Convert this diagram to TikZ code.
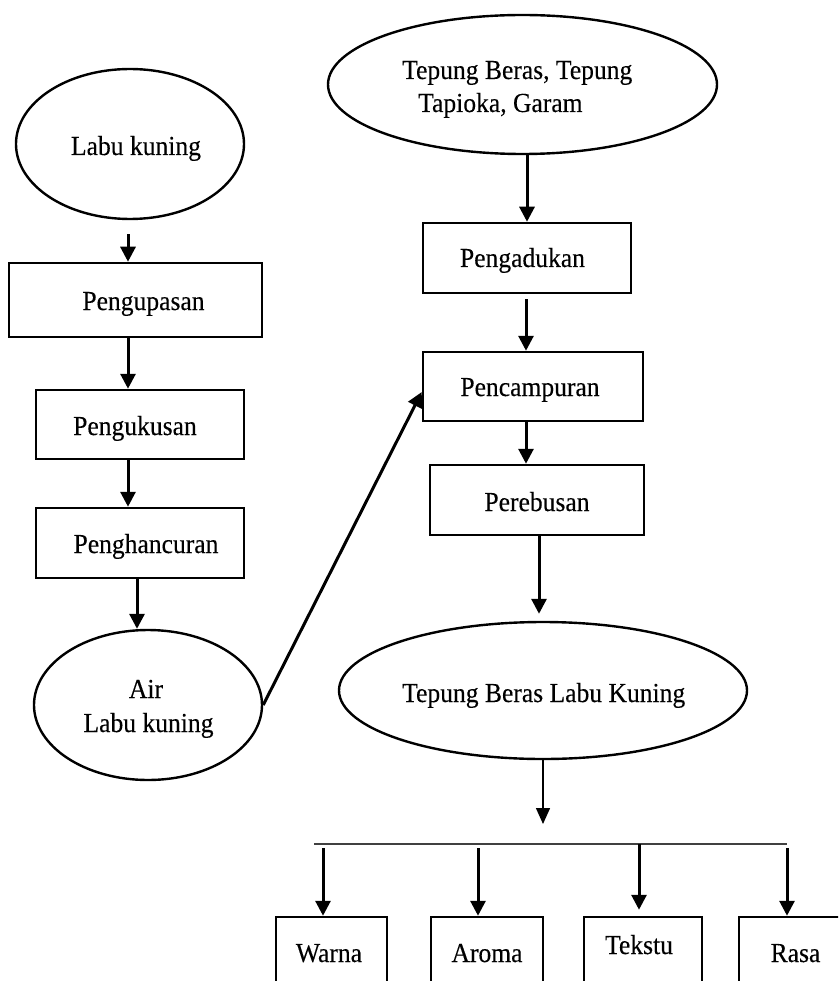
\documentclass[tikz,border=0pt]{standalone}
\usepackage{fontspec}
\setmainfont{Liberation Serif}[FakeStretch=0.93,FakeBold=0.25]
\usetikzlibrary{arrows.meta,shapes.geometric}
\begin{document}
\begin{tikzpicture}[x=1pt,y=-1pt,
  box/.style={draw, line width=2.5pt, rectangle, inner sep=0pt},
  oval/.style={draw, line width=2.4pt, ellipse, inner sep=0pt},
  txt/.style={inner sep=0pt, anchor=base, font=\fontsize{27.5}{33}\selectfont},
  arr/.style={line width=3pt, -{Triangle[length=15pt,width=15pt]}},
  thinarr/.style={line width=1.4pt, -{Triangle[length=16pt,width=14pt]}},
  barline/.style={line width=1.5pt, draw=black!75}]
\useasboundingbox (0,0) rectangle (838,981);
\clip (0,0) rectangle (838,981);

% left column
\node[oval, minimum width=228pt, minimum height=150pt] (lk) at (130,144) {};
\node[txt] (lkT) at (136,155) {Labu kuning};
\node[box, minimum width=253pt, minimum height=74pt] (kupas) at (135.5,300) {};
\node[txt] (kupasT) at (143.5,310) {Pengupasan};
\node[box, minimum width=208pt, minimum height=69pt] (kukus) at (140,424.5) {};
\node[txt] (kukusT) at (135,435) {Pengukusan};
\node[box, minimum width=208pt, minimum height=70pt] (hancur) at (140,543) {};
\node[txt] (hancurT) at (146,553) {Penghancuran};
\node[oval, minimum width=228pt, minimum height=150pt] (air) at (148,705) {};
\node[txt] (airT1) at (146,698) {Air};
\node[txt] (airT2) at (148.5,732) {Labu kuning};

% right column
\node[oval, minimum width=389pt, minimum height=139pt] (top) at (522.5,84.5) {};
\node[txt, anchor=base west] (topT1) at (402,79) {Tepung Beras, Tepung};
\node[txt, anchor=base west] (topT2) at (418,112) {Tapioka, Garam};
\node[box, minimum width=208pt, minimum height=70pt] (aduk) at (527,258) {};
\node[txt] (adukT) at (522.5,267) {Pengadukan};
\node[box, minimum width=220pt, minimum height=69pt] (campur) at (533,386.5) {};
\node[txt] (campurT) at (530,396) {Pencampuran};
\node[box, minimum width=214pt, minimum height=70pt] (rebus) at (537,500) {};
\node[txt] (rebusT) at (537,511) {Perebusan};
\node[oval, minimum width=408pt, minimum height=137pt] (hasil) at (543,690.5) {};
\node[txt, anchor=base west] (hasilT) at (402,702) {Tepung Beras Labu Kuning};

% bottom boxes
\node[box, minimum width=111pt, minimum height=90pt] (warna) at (331.5,962) {};
\node[txt] (warnaT) at (329,962) {Warna};
\node[box, minimum width=112pt, minimum height=90pt] (aroma) at (487,962) {};
\node[txt] (aromaT) at (487,962) {Aroma};
\node[box, minimum width=118pt, minimum height=90pt] (tekstur) at (643,962) {};
\node[txt] (teksturT) at (639,954) {Tekstu};
\node[box, minimum width=112pt, minimum height=90pt] (rasa) at (795,962) {};
\node[txt] (rasaT) at (795.5,962) {Rasa};

% bar
\coordinate (barL) at (314,844);
\coordinate (barR) at (787,844);
\draw[barline] (barL) -- (barR);

% connectors
\draw[arr, shorten <=14pt] ([xshift=-2pt]lk.south) -- ([xshift=-2pt]lk.south |- kupas.north);
\draw[arr] ([xshift=-7.5pt]kupas.south) -- ([xshift=-7.5pt]kupas.south |- kukus.north);
\draw[arr] ([xshift=-12pt]kukus.south) -- ([xshift=-12pt]kukus.south |- hancur.north);
\draw[arr] ([xshift=-3pt]hancur.south) -- ([xshift=-3pt]hancur.south |- air.north);
\draw[arr] (air.east) -- ([yshift=-5.5pt]campur.west);
\draw[arr] (top.south -| aduk.north) -- (aduk.north);
\draw[arr, shorten <=5pt] ([xshift=-1pt]aduk.south) -- ([xshift=-1pt]aduk.south |- campur.north);
\draw[arr] ([xshift=-7pt]campur.south) -- ([xshift=-7pt]campur.south |- rebus.north);
\draw[arr, shorten >=7pt] ([xshift=2pt]rebus.south) -- ([xshift=2pt]rebus.south |- hasil.north);
\draw[thinarr, shorten >=20pt] (hasil.south) -- (hasil.south |- barL);

\coordinate (wA) at ([xshift=-8.5pt]warna.north);
\coordinate (aA) at ([xshift=-9pt]aroma.north);
\coordinate (tA) at ([xshift=-4pt]tekstur.north);
\coordinate (rA) at ([xshift=-8pt]rasa.north);
\draw[arr, shorten <=4pt] (wA |- barL) -- (wA);
\draw[arr, shorten <=4pt] (aA |- barL) -- (aA);
\draw[arr, shorten >=6pt] (tA |- barL) -- (tA);
\draw[arr, shorten <=4pt] (rA |- barL) -- (rA);
\end{tikzpicture}
\end{document}
